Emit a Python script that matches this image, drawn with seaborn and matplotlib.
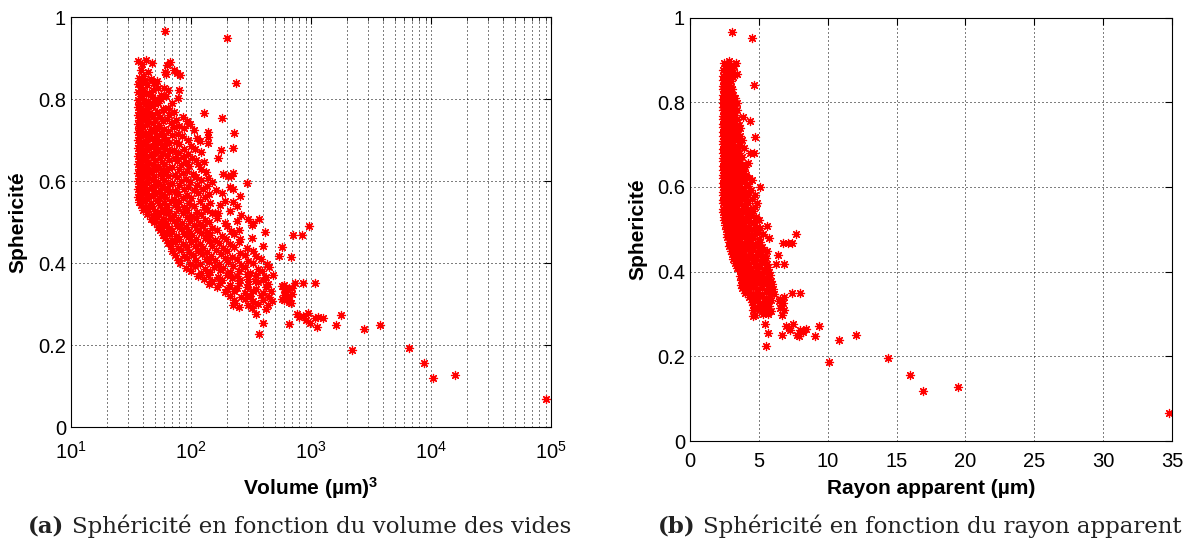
import pandas as pd
import matplotlib
matplotlib.use("Agg")
import matplotlib.pyplot as plt
import seaborn as sns
from matplotlib.ticker import FixedLocator, FuncFormatter, LogLocator, NullFormatter

# ---- panel (a): sphericity vs void volume (um^3) ----
vol_core_a = [
    36, 39, 42, 47, 63, 67,
    38, 44, 61, 72,
    40, 62, 76, 81,
    37, 41, 46, 52,
    36, 39, 43, 49,
    38, 53, 59, 64, 79,
    36, 40, 45, 48,
    38, 42, 47, 56, 62,
    36, 39, 44, 50, 56, 78,
    37, 41, 46, 53, 69,
    36, 38, 43, 48, 58, 64,
    37, 40, 45, 52, 60, 72, 128,
    36, 39, 42, 47, 55, 66, 85, 180,
    37, 41, 44, 50, 58, 63, 75, 92,
    36, 38, 43, 48, 54, 68, 80, 98,
    37, 40, 46, 52, 60, 72, 88, 105,
    36, 39, 44, 49, 56, 64, 78, 139, 229,
    37, 41, 45, 51, 59, 70, 84, 112, 139,
    36, 38, 42, 47, 54, 62, 75, 95, 118,
    37, 40, 44, 50, 57, 66, 80, 100, 139,
    36, 39, 43, 48, 53, 61, 72, 88, 108, 224, 178,
    37, 41, 46, 51, 58, 67, 78, 94, 120,
    36, 38, 42, 47, 55, 63, 74, 86, 102, 169,
    37, 40, 44, 50, 57, 65, 76, 90, 110, 128,
    36, 39, 43, 48, 53, 60, 70, 82, 97, 115,
    37, 41, 45, 51, 58, 66, 79, 93, 122,
    36, 38, 42, 47, 55, 62, 73, 86, 104, 132, 185, 205, 224,
    37, 40, 44, 49, 57, 64, 76, 91, 110, 138, 215,
    36, 39, 43, 48, 53, 60, 70, 83, 98, 120, 150, 291,
    37, 41, 46, 51, 58, 67, 80, 95, 112, 135, 210,
    36, 38, 42, 47, 55, 63, 74, 88, 105, 126, 160, 222,
    37, 40, 45, 50, 57, 65, 78, 92, 115, 142, 180,
    36, 39, 43, 48, 54, 61, 72, 86, 100, 130, 256,
    37, 41, 46, 52, 59, 68, 80, 96, 118, 144, 190, 224,
    38, 42, 47, 55, 63, 74, 88, 106, 128, 174, 240,
    40, 44, 50, 57, 66, 78, 92, 112, 135, 158, 210,
    43, 48, 54, 62, 72, 85, 100, 120, 149, 169, 260,
    46, 52, 58, 67, 78, 92, 110, 130, 164, 300, 370,
    49, 55, 62, 72, 84, 98, 118, 140, 190, 240, 330,
    53, 59, 66, 76, 90, 105, 126, 150, 200, 322, 960,
    55, 62, 70, 82, 96, 112, 135, 165, 215, 250, 415,
    58, 65, 75, 88, 102, 122, 145, 180, 230, 704, 837,
    61, 70, 80, 94, 110, 130, 158, 195, 256, 320,
    64, 74, 85, 100, 118, 140, 170, 210, 250,
    68, 78, 92, 108, 126, 150, 185, 230, 290, 400, 570,
    70, 82, 97, 115, 136, 162, 200, 255, 330,
    74, 88, 104, 124, 148, 178, 220, 280, 350, 536, 680,
    78, 93, 110, 132, 158, 190, 240, 300, 380,
    81, 98, 118, 140, 170, 205, 260, 330, 427,
    90, 108, 130, 155, 185, 225, 280, 360, 450,
    100, 120, 145, 175, 210, 250, 310, 390,
    115, 138, 168, 200, 240, 290, 350, 420, 480,
    128, 150, 180, 220, 255, 300, 340, 400,
    140, 175, 210, 250, 300, 360, 440, 600, 735, 860, 1075,
    165, 200, 240, 290, 350, 420, 590, 650,
    190, 230, 280, 330, 400, 460, 620, 690,
    210, 260, 310, 380, 450, 600,
    230, 280, 330, 400, 470, 570, 650,
    224, 232, 300, 360, 440, 680,
    250, 320, 420,
]
sph_core_a = [
    0.893, 0.886, 0.897, 0.889, 0.885, 0.892,
    0.872, 0.868, 0.866, 0.871,
    0.858, 0.862, 0.864, 0.860,
    0.852, 0.847, 0.850, 0.845,
    0.838, 0.842, 0.836, 0.840,
    0.831, 0.829, 0.827, 0.823, 0.823,
    0.818, 0.821, 0.816, 0.822,
    0.808, 0.812, 0.806, 0.811, 0.809,
    0.799, 0.803, 0.797, 0.801, 0.800, 0.803,
    0.788, 0.792, 0.786, 0.790, 0.790,
    0.781, 0.777, 0.779, 0.783, 0.776, 0.780,
    0.768, 0.772, 0.767, 0.770, 0.773, 0.769, 0.766,
    0.761, 0.757, 0.759, 0.763, 0.758, 0.762, 0.756, 0.755,
    0.749, 0.752, 0.747, 0.751, 0.748, 0.753, 0.750, 0.746,
    0.741, 0.737, 0.739, 0.743, 0.738, 0.742, 0.736, 0.740,
    0.729, 0.732, 0.727, 0.731, 0.728, 0.733, 0.730, 0.726,
    0.721, 0.717, 0.719, 0.723, 0.718, 0.722, 0.716, 0.721, 0.719,
    0.709, 0.712, 0.707, 0.711, 0.708, 0.713, 0.710, 0.706, 0.709,
    0.701, 0.697, 0.699, 0.703, 0.698, 0.702, 0.696, 0.700, 0.698,
    0.689, 0.692, 0.687, 0.691, 0.688, 0.693, 0.690, 0.686, 0.693,
    0.681, 0.677, 0.679, 0.683, 0.678, 0.682, 0.676, 0.680, 0.678, 0.682, 0.676,
    0.669, 0.672, 0.667, 0.671, 0.668, 0.673, 0.670, 0.666, 0.671,
    0.661, 0.657, 0.659, 0.663, 0.658, 0.662, 0.656, 0.660, 0.658, 0.658,
    0.649, 0.652, 0.647, 0.651, 0.648, 0.653, 0.650, 0.646, 0.651, 0.648,
    0.641, 0.637, 0.639, 0.643, 0.638, 0.642, 0.636, 0.640, 0.638, 0.642,
    0.629, 0.632, 0.627, 0.631, 0.628, 0.633, 0.630, 0.626, 0.631,
    0.621, 0.617, 0.619, 0.623, 0.618, 0.622, 0.616, 0.620, 0.618, 0.622, 0.617, 0.614, 0.620,
    0.609, 0.612, 0.607, 0.611, 0.608, 0.613, 0.610, 0.606, 0.611, 0.608, 0.612,
    0.601, 0.597, 0.599, 0.603, 0.598, 0.602, 0.596, 0.600, 0.598, 0.602, 0.599, 0.597,
    0.589, 0.592, 0.587, 0.591, 0.588, 0.593, 0.590, 0.586, 0.591, 0.588, 0.587,
    0.581, 0.577, 0.579, 0.583, 0.578, 0.582, 0.576, 0.580, 0.578, 0.582, 0.579, 0.580,
    0.569, 0.572, 0.567, 0.571, 0.568, 0.573, 0.570, 0.566, 0.571, 0.568, 0.572,
    0.561, 0.557, 0.559, 0.563, 0.558, 0.562, 0.556, 0.560, 0.558, 0.562, 0.565,
    0.549, 0.552, 0.547, 0.551, 0.548, 0.553, 0.550, 0.546, 0.551, 0.548, 0.552, 0.549,
    0.541, 0.537, 0.539, 0.543, 0.538, 0.542, 0.536, 0.540, 0.538, 0.542, 0.539,
    0.529, 0.532, 0.527, 0.531, 0.528, 0.533, 0.530, 0.526, 0.531, 0.523, 0.528,
    0.521, 0.517, 0.519, 0.523, 0.518, 0.522, 0.516, 0.520, 0.523, 0.523, 0.518,
    0.509, 0.512, 0.507, 0.511, 0.508, 0.513, 0.510, 0.506, 0.511, 0.508, 0.507,
    0.501, 0.497, 0.499, 0.503, 0.498, 0.502, 0.496, 0.500, 0.498, 0.502, 0.499,
    0.489, 0.492, 0.487, 0.491, 0.488, 0.493, 0.490, 0.486, 0.491, 0.493, 0.490,
    0.481, 0.477, 0.479, 0.483, 0.478, 0.482, 0.476, 0.480, 0.478, 0.482, 0.477,
    0.469, 0.472, 0.467, 0.471, 0.468, 0.473, 0.470, 0.466, 0.471, 0.469, 0.469,
    0.461, 0.457, 0.459, 0.463, 0.458, 0.462, 0.456, 0.460, 0.458, 0.462,
    0.449, 0.452, 0.447, 0.451, 0.448, 0.453, 0.450, 0.446, 0.451,
    0.441, 0.437, 0.439, 0.443, 0.438, 0.442, 0.436, 0.440, 0.438, 0.442, 0.440,
    0.429, 0.432, 0.427, 0.431, 0.428, 0.433, 0.430, 0.426, 0.431,
    0.421, 0.417, 0.419, 0.423, 0.418, 0.422, 0.416, 0.420, 0.418, 0.418, 0.416,
    0.409, 0.412, 0.407, 0.411, 0.408, 0.413, 0.410, 0.406, 0.411,
    0.401, 0.397, 0.399, 0.403, 0.398, 0.402, 0.396, 0.400, 0.398,
    0.389, 0.392, 0.387, 0.391, 0.388, 0.393, 0.390, 0.386, 0.391,
    0.381, 0.377, 0.379, 0.383, 0.378, 0.382, 0.376, 0.380,
    0.369, 0.372, 0.367, 0.371, 0.368, 0.373, 0.370, 0.366, 0.371,
    0.361, 0.357, 0.359, 0.363, 0.358, 0.362, 0.356, 0.360,
    0.349, 0.352, 0.347, 0.351, 0.348, 0.353, 0.350, 0.346, 0.351, 0.351, 0.351,
    0.341, 0.337, 0.339, 0.343, 0.338, 0.342, 0.336, 0.340,
    0.329, 0.332, 0.327, 0.331, 0.328, 0.333, 0.330, 0.326,
    0.321, 0.317, 0.319, 0.323, 0.318, 0.322,
    0.309, 0.312, 0.307, 0.311, 0.308, 0.313, 0.310,
    0.298, 0.302, 0.297, 0.301, 0.299, 0.303,
    0.294, 0.290, 0.288,
]
vol_tail_a = [60.7, 201, 235, 346, 401, 370, 575, 610, 640, 660, 690, 600,
              760, 800, 850, 900, 950, 985, 1110, 1075, 1150, 1250, 658,
              1780, 1620, 2750, 3780, 2200, 6550, 8800, 10300, 15700, 91000]
sph_tail_a = [0.966, 0.949, 0.841, 0.275, 0.255, 0.227, 0.345, 0.330, 0.318, 0.305, 0.340, 0.310,
              0.275, 0.268, 0.270, 0.262, 0.278, 0.255, 0.243, 0.265, 0.268, 0.266, 0.251,
              0.273, 0.249, 0.239, 0.248, 0.188, 0.192, 0.157, 0.120, 0.127, 0.068]

# ---- panel (b): sphericity vs apparent radius (um) ----
ray_core_b = [
    2.45, 2.6, 2.8, 3.0, 3.2, 3.35,
    2.4, 2.55, 2.75, 2.95, 3.15, 3.4,
    2.42, 2.6, 2.85, 3.1,
    2.38, 2.55, 2.7, 2.85, 3.0,
    2.4, 2.5, 2.65, 2.8, 2.95, 4.67,
    2.38, 2.5, 2.62, 2.78, 2.9, 3.05,
    2.4, 2.55, 2.7, 2.85, 3.0, 3.15,
    2.38, 2.5, 2.62, 2.75, 2.9, 3.1, 3.25,
    2.4, 2.52, 2.66, 2.8, 2.95, 3.15, 3.4,
    2.38, 2.5, 2.62, 2.78, 2.92, 3.05, 3.3,
    2.4, 2.55, 2.68, 2.82, 2.98, 3.2, 3.45,
    2.38, 2.5, 2.62, 2.76, 2.9, 3.08, 3.3, 3.87,
    2.4, 2.52, 2.66, 2.8, 2.96, 3.15, 3.4, 4.36,
    2.38, 2.5, 2.63, 2.78, 2.93, 3.1, 3.3, 3.55,
    2.4, 2.53, 2.67, 2.82, 2.98, 3.18, 3.42, 3.65,
    2.38, 2.5, 2.62, 2.76, 2.9, 3.05, 3.25, 3.5,
    2.4, 2.52, 2.66, 2.8, 2.95, 3.12, 3.35, 3.6, 4.72,
    2.38, 2.5, 2.63, 2.77, 2.92, 3.08, 3.28, 3.55, 3.8,
    2.4, 2.53, 2.67, 2.82, 2.98, 3.15, 3.38, 3.65,
    2.38, 2.5, 2.62, 2.76, 2.9, 3.05, 3.25, 3.5, 3.9,
    2.4, 2.52, 2.66, 2.8, 2.95, 3.12, 3.32, 3.58, 4.36, 4.65,
    2.38, 2.5, 2.63, 2.77, 2.92, 3.08, 3.28, 3.52, 3.8,
    2.4, 2.53, 2.67, 2.82, 2.98, 3.15, 3.38, 3.65, 4.24,
    2.38, 2.5, 2.62, 2.76, 2.9, 3.05, 3.25, 3.5, 3.8, 4.0,
    2.4, 2.52, 2.66, 2.8, 2.95, 3.12, 3.32, 3.58, 3.9,
    2.38, 2.5, 2.63, 2.77, 2.92, 3.08, 3.28, 3.52, 3.75, 4.1,
    2.4, 2.53, 2.67, 2.82, 2.98, 3.15, 3.38, 3.65, 3.95, 4.3, 4.5,
    2.38, 2.5, 2.62, 2.76, 2.9, 3.05, 3.25, 3.5, 3.8, 4.15,
    2.4, 2.52, 2.66, 2.8, 2.95, 3.12, 3.32, 3.58, 3.9, 4.2, 5.08,
    2.38, 2.5, 2.63, 2.77, 2.92, 3.08, 3.28, 3.52, 3.8, 4.1, 4.4,
    2.4, 2.53, 2.67, 2.82, 2.98, 3.15, 3.38, 3.65, 3.95, 4.25, 4.72,
    2.38, 2.5, 2.62, 2.76, 2.9, 3.05, 3.25, 3.5, 3.8, 4.1, 4.5,
    2.4, 2.52, 2.66, 2.8, 2.95, 3.12, 3.32, 3.58, 3.9, 4.2, 4.84,
    2.4, 2.55, 2.7, 2.85, 3.0, 3.2, 3.42, 3.7, 4.0, 4.35, 4.7,
    2.42, 2.58, 2.75, 2.92, 3.1, 3.3, 3.55, 3.85, 4.24, 4.6,
    2.45, 2.62, 2.8, 3.0, 3.2, 3.45, 3.7, 4.0, 4.4, 4.8,
    2.5, 2.68, 2.88, 3.08, 3.3, 3.55, 3.85, 4.2, 4.6, 5.0,
    2.55, 2.75, 2.95, 3.15, 3.4, 3.65, 3.95, 4.3, 4.7, 5.57,
    2.6, 2.8, 3.0, 3.22, 3.48, 3.75, 4.05, 4.4, 4.8, 5.1,
    2.66, 2.87, 3.08, 3.3, 3.55, 3.85, 4.15, 4.5, 4.9, 5.33, 7.7,
    2.72, 2.93, 3.15, 3.4, 3.65, 3.95, 4.25, 4.6, 5.0, 5.76,
    2.8, 3.0, 3.22, 3.48, 3.75, 4.05, 4.35, 4.7, 5.1, 6.78, 7.1, 7.38,
    2.87, 3.08, 3.3, 3.55, 3.85, 4.15, 4.5, 4.85, 5.2,
    2.95, 3.15, 3.4, 3.65, 3.95, 4.25, 4.6, 4.95, 5.3, 5.57,
    3.05, 3.25, 3.5, 3.75, 4.05, 4.35, 4.7, 5.05, 5.45, 6.41,
    3.15, 3.35, 3.6, 3.85, 4.15, 4.45, 4.8, 5.15, 5.5,
    3.25, 3.45, 3.7, 3.95, 4.25, 4.55, 4.9, 5.25, 5.6, 6.25, 6.83,
    3.4, 3.6, 3.85, 4.1, 4.4, 4.7, 5.0, 5.35, 5.65,
    3.6, 3.8, 4.05, 4.3, 4.6, 4.9, 5.2, 5.5, 5.75,
    3.65, 3.85, 4.1, 4.38, 4.65, 4.95, 5.25, 5.55, 5.8,
    3.7, 3.9, 4.15, 4.42, 4.7, 5.0, 5.3, 5.6, 5.9,
    3.72, 3.95, 4.2, 4.48, 4.75, 5.05, 5.35, 5.65, 5.95,
    3.75, 4.0, 4.3, 4.6, 4.9, 5.2, 5.5, 5.8, 6.05,
    4.0, 4.3, 4.6, 4.9, 5.2, 5.5, 5.8, 6.1, 7.38, 7.99,
    4.3, 4.6, 4.9, 5.2, 5.5, 5.8, 6.55, 6.8,
    4.48, 4.75, 5.05, 5.35, 5.65, 5.9, 6.5, 6.75,
    4.55, 4.85, 5.15, 5.45, 5.75, 6.6,
    4.6, 4.9, 5.2, 5.5, 5.85, 6.55, 6.8,
    4.72, 4.6, 5.3, 5.7, 6.7,
]
sph_core_b = [
    0.893, 0.886, 0.897, 0.889, 0.885, 0.892,
    0.876, 0.872, 0.878, 0.874, 0.871, 0.866,
    0.862, 0.858, 0.864, 0.860,
    0.852, 0.847, 0.850, 0.845, 0.851,
    0.838, 0.842, 0.836, 0.840, 0.837, 0.841,
    0.831, 0.827, 0.829, 0.833, 0.828, 0.832,
    0.818, 0.821, 0.816, 0.822, 0.819, 0.817,
    0.808, 0.812, 0.806, 0.811, 0.809, 0.807, 0.811,
    0.799, 0.803, 0.797, 0.801, 0.800, 0.803, 0.798,
    0.788, 0.792, 0.786, 0.790, 0.789, 0.791, 0.787,
    0.781, 0.777, 0.779, 0.783, 0.776, 0.780, 0.782,
    0.768, 0.772, 0.767, 0.770, 0.773, 0.769, 0.771, 0.766,
    0.761, 0.757, 0.759, 0.763, 0.758, 0.762, 0.760, 0.756,
    0.749, 0.752, 0.747, 0.751, 0.748, 0.753, 0.750, 0.746,
    0.741, 0.737, 0.739, 0.743, 0.738, 0.742, 0.736, 0.740,
    0.729, 0.732, 0.727, 0.731, 0.728, 0.733, 0.730, 0.726,
    0.721, 0.717, 0.719, 0.723, 0.718, 0.722, 0.716, 0.720, 0.719,
    0.709, 0.712, 0.707, 0.711, 0.708, 0.713, 0.710, 0.706, 0.711,
    0.701, 0.697, 0.699, 0.703, 0.698, 0.702, 0.696, 0.700,
    0.689, 0.692, 0.687, 0.691, 0.688, 0.693, 0.690, 0.686, 0.691,
    0.681, 0.677, 0.679, 0.683, 0.678, 0.682, 0.676, 0.680, 0.679, 0.679,
    0.669, 0.672, 0.667, 0.671, 0.668, 0.673, 0.670, 0.666, 0.671,
    0.661, 0.657, 0.659, 0.663, 0.658, 0.662, 0.656, 0.660, 0.656,
    0.649, 0.652, 0.647, 0.651, 0.648, 0.653, 0.650, 0.646, 0.651, 0.648,
    0.641, 0.637, 0.639, 0.643, 0.638, 0.642, 0.636, 0.640, 0.638,
    0.629, 0.632, 0.627, 0.631, 0.628, 0.633, 0.630, 0.626, 0.631, 0.628,
    0.621, 0.617, 0.619, 0.623, 0.618, 0.622, 0.616, 0.620, 0.618, 0.622, 0.617,
    0.609, 0.612, 0.607, 0.611, 0.608, 0.613, 0.610, 0.606, 0.611, 0.608,
    0.601, 0.597, 0.599, 0.603, 0.598, 0.602, 0.596, 0.600, 0.598, 0.602, 0.599,
    0.589, 0.592, 0.587, 0.591, 0.588, 0.593, 0.590, 0.586, 0.591, 0.588, 0.592,
    0.581, 0.577, 0.579, 0.583, 0.578, 0.582, 0.576, 0.580, 0.578, 0.582, 0.581,
    0.569, 0.572, 0.567, 0.571, 0.568, 0.573, 0.570, 0.566, 0.571, 0.568, 0.572,
    0.561, 0.557, 0.559, 0.563, 0.558, 0.562, 0.556, 0.560, 0.558, 0.562, 0.561,
    0.549, 0.552, 0.547, 0.551, 0.548, 0.553, 0.550, 0.546, 0.551, 0.548, 0.552,
    0.541, 0.537, 0.539, 0.543, 0.538, 0.542, 0.536, 0.540, 0.538, 0.542,
    0.529, 0.532, 0.527, 0.531, 0.528, 0.533, 0.530, 0.526, 0.531, 0.528,
    0.521, 0.517, 0.519, 0.523, 0.518, 0.522, 0.516, 0.520, 0.518, 0.522,
    0.509, 0.512, 0.507, 0.511, 0.508, 0.513, 0.510, 0.506, 0.511, 0.508,
    0.501, 0.497, 0.499, 0.503, 0.498, 0.502, 0.496, 0.500, 0.498, 0.502,
    0.489, 0.492, 0.487, 0.491, 0.488, 0.493, 0.490, 0.486, 0.491, 0.490, 0.490,
    0.481, 0.477, 0.479, 0.483, 0.478, 0.482, 0.476, 0.480, 0.478, 0.479,
    0.469, 0.472, 0.467, 0.471, 0.468, 0.473, 0.470, 0.466, 0.471, 0.468, 0.468, 0.468,
    0.461, 0.457, 0.459, 0.463, 0.458, 0.462, 0.456, 0.460, 0.458,
    0.449, 0.452, 0.447, 0.451, 0.448, 0.453, 0.450, 0.446, 0.451, 0.449,
    0.441, 0.437, 0.439, 0.443, 0.438, 0.442, 0.436, 0.440, 0.438, 0.439,
    0.429, 0.432, 0.427, 0.431, 0.428, 0.433, 0.430, 0.426, 0.431,
    0.421, 0.417, 0.419, 0.423, 0.418, 0.422, 0.416, 0.420, 0.418, 0.417, 0.417,
    0.409, 0.412, 0.407, 0.411, 0.408, 0.413, 0.410, 0.406, 0.411,
    0.401, 0.397, 0.399, 0.403, 0.398, 0.402, 0.396, 0.400, 0.398,
    0.389, 0.392, 0.387, 0.391, 0.388, 0.393, 0.390, 0.386, 0.391,
    0.381, 0.377, 0.379, 0.383, 0.378, 0.382, 0.376, 0.380, 0.378,
    0.369, 0.372, 0.367, 0.371, 0.368, 0.373, 0.370, 0.366, 0.371,
    0.361, 0.357, 0.359, 0.363, 0.358, 0.362, 0.356, 0.360, 0.358,
    0.349, 0.352, 0.347, 0.351, 0.348, 0.353, 0.350, 0.346, 0.350, 0.349,
    0.341, 0.337, 0.339, 0.343, 0.338, 0.342, 0.336, 0.340,
    0.329, 0.332, 0.327, 0.331, 0.328, 0.333, 0.330, 0.326,
    0.321, 0.317, 0.319, 0.323, 0.318, 0.322,
    0.309, 0.312, 0.307, 0.311, 0.308, 0.313, 0.310,
    0.297, 0.295, 0.301, 0.299, 0.298,
]
ray_tail_b = [3.03, 4.48, 5.45, 5.69, 5.52, 6.71, 7.0, 7.2, 7.45, 7.26, 7.8, 8.0, 8.2,
              8.45, 7.9, 9.08, 9.39, 10.84, 12.03, 10.12, 14.38, 15.98, 16.94, 19.49, 34.8]
sph_tail_b = [0.967, 0.951, 0.276, 0.254, 0.225, 0.250, 0.272, 0.266, 0.277, 0.262, 0.250, 0.262, 0.258,
              0.265, 0.247, 0.249, 0.272, 0.238, 0.250, 0.186, 0.196, 0.156, 0.119, 0.127, 0.067]

y_ticks = [0, 0.2, 0.4, 0.6, 0.8, 1]
vol_ticks = [1e1, 1e2, 1e3, 1e4, 1e5]
ray_ticks = [0, 5, 10, 15, 20, 25, 30, 35]

df_a = pd.DataFrame({"volume": vol_core_a + vol_tail_a, "sphericite": sph_core_a + sph_tail_a})
df_b = pd.DataFrame({"rayon": ray_core_b + ray_tail_b, "sphericite": sph_core_b + sph_tail_b})

sns.set_style("white")
plt.rcParams["font.family"] = ["Liberation Sans", "DejaVu Sans"]
plt.rcParams["mathtext.fontset"] = "custom"
plt.rcParams["mathtext.rm"] = "Liberation Sans"
plt.rcParams["mathtext.it"] = "Liberation Sans:italic"
plt.rcParams["mathtext.bf"] = "Liberation Sans:bold"
plt.rcParams["text.color"] = "black"
plt.rcParams["axes.labelcolor"] = "black"

fig = plt.figure(figsize=(11.9, 5.41), dpi=100)
ax1 = fig.add_axes([0.0597, 0.2107, 0.4034, 0.757])
ax2 = fig.add_axes([0.5798, 0.1848, 0.4050, 0.7828])

# matlab-like '*' marker: 8 spokes
star = (8, 2, 0)
pt = dict(marker=star, s=34, color="red", edgecolor="red", linewidth=0.9, legend=False)
grid_kw = dict(color="black", linestyle=(0, (1, 3)), linewidth=0.72)

ax1.set_xscale("log")
sns.scatterplot(data=df_a, x="volume", y="sphericite", ax=ax1, **pt)
sns.scatterplot(data=df_b, x="rayon", y="sphericite", ax=ax2, **pt)

ax1.set_xlim(10, 1e5)
ax1.xaxis.set_major_locator(FixedLocator(vol_ticks))
ax1.xaxis.set_minor_locator(LogLocator(base=10, subs=range(2, 10)))
ax1.xaxis.set_minor_formatter(NullFormatter())
ax1.grid(True, which="both", axis="x", **grid_kw)

ax2.set_xlim(0, 35)
ax2.xaxis.set_major_locator(FixedLocator(ray_ticks))
ax2.grid(True, which="major", axis="x", **grid_kw)

for ax in (ax1, ax2):
    ax.set_ylim(0, 1)
    ax.yaxis.set_major_locator(FixedLocator(y_ticks))
    ax.yaxis.set_major_formatter(FuncFormatter(lambda v, _: f"{v:g}"))
    ax.grid(True, which="major", axis="y", **grid_kw)
    ax.set_axisbelow(True)
    ax.tick_params(which="major", direction="in", length=5, width=0.8,
                   top=True, right=True, labelsize=14.5, colors="black")
    ax.tick_params(which="minor", direction="in", length=3, width=0.6, top=True)
    ax.tick_params(axis="y", pad=3.6)
    for sp in ax.spines.values():
        sp.set_visible(True)
        sp.set_color("black")
        sp.set_linewidth(0.8)

ax1.tick_params(axis="x", which="major", pad=10)
ax2.tick_params(axis="x", which="major", pad=8)

lab = dict(fontsize=15, fontweight="bold", va="center", color="black")
ax1.set_xlabel(r"Volume (µm)$^\mathbf{3}$", **lab)
ax1.set_ylabel("Sphericité", **lab)
ax1.xaxis.set_label_coords(0.5, -0.149)
ax1.yaxis.set_label_coords(-0.111, 0.5)
ax2.set_xlabel("Rayon apparent (µm)", **lab)
ax2.set_ylabel("Sphericité", **lab)
ax2.xaxis.set_label_coords(0.5, -0.111)
ax2.yaxis.set_label_coords(-0.109, 0.5)

# captions below each panel, serif like the LaTeX document
cap = 16.5
serif = ["DejaVu Serif"]
for x0, tag, txt in [(0.0238, "(a)", "Sphéricité en fonction du volume des vides"),
                     (0.5532, "(b)", "Sphéricité en fonction du rayon apparent")]:
    t = fig.text(x0, 0.0152, tag, family=serif, fontweight="bold", fontsize=cap,
                 va="baseline", ha="left", color="#222222")
    plt.annotate(txt, xy=(1, 0), xycoords=t, xytext=(5, 0), textcoords="offset points",
                 family=serif, fontsize=cap, va="bottom", ha="left", color="#222222",
                 annotation_clip=False)

fig.savefig("out.png", dpi=100, facecolor="white")
